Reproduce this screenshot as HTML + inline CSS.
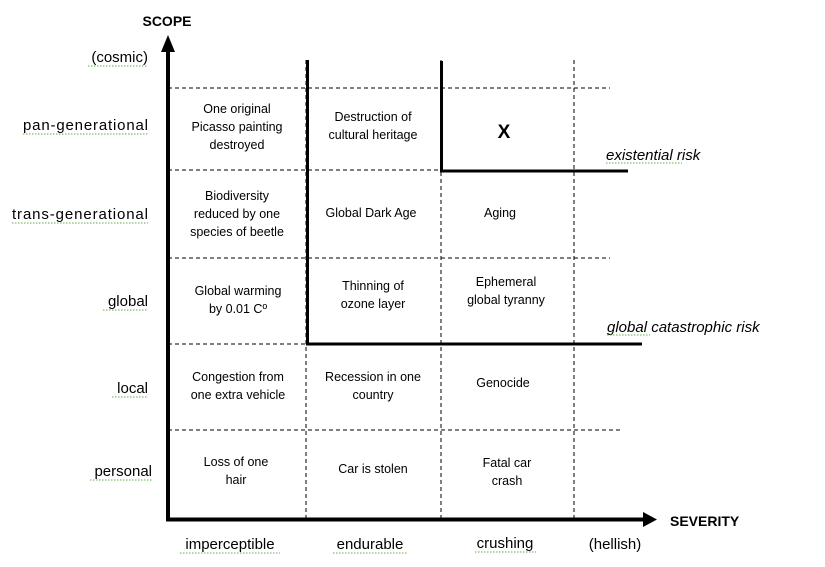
<!DOCTYPE html>
<html><head><meta charset="utf-8"><style>
html,body{margin:0;padding:0;background:#fff;}
svg{display:block;}
text{font-family:"Liberation Sans",sans-serif;fill:#000;}
.c{font-size:12.5px;text-anchor:middle;}
.r{font-size:15px;text-anchor:end;}
.b{font-size:15px;text-anchor:middle;}
.w{stroke:#5bb04a;stroke-width:1;stroke-dasharray:1.5 1.5;fill:none;}
</style></head><body>
<svg width="825" height="567" viewBox="0 0 825 567" xmlns="http://www.w3.org/2000/svg">
<g stroke="#000" stroke-width="1" stroke-dasharray="4 3" fill="none">
<line x1="168" y1="88" x2="610" y2="88"/>
<line x1="168" y1="170" x2="610" y2="170"/>
<line x1="168" y1="258" x2="610" y2="258"/>
<line x1="168" y1="344" x2="610" y2="344"/>
<line x1="168" y1="430" x2="620" y2="430"/>
<line x1="306" y1="60" x2="306" y2="519"/>
<line x1="441" y1="60" x2="441" y2="519"/>
<line x1="574" y1="60" x2="574" y2="519"/>
</g>
<g stroke="#000" stroke-width="3" fill="none">
<polyline points="307.5,60 307.5,344 642,344"/>
<polyline points="441.5,61 441.5,171 628,171"/>
</g>
<line x1="168" y1="519" x2="168" y2="50" stroke="#000" stroke-width="4"/>
<polygon points="161,52 175,52 168,35" fill="#000"/>
<line x1="166" y1="519.5" x2="645" y2="519.5" stroke="#000" stroke-width="4"/>
<polygon points="643,512 643,527 657,519.5" fill="#000"/>
<text x="167" y="26" style="font-size:14px;font-weight:bold;text-anchor:middle">SCOPE</text>
<text x="670" y="526" style="font-size:14px;font-weight:bold">SEVERITY</text>
<text class="r" x="148" y="62">(cosmic)</text>
<text class="r" x="148" y="130" textLength="125">pan-generational</text>
<text class="r" x="148" y="219" textLength="136">trans-generational</text>
<text class="r" x="148" y="306">global</text>
<text class="r" x="148" y="393">local</text>
<text class="r" x="152" y="476">personal</text>
<text class="b" x="230" y="549">imperceptible</text>
<text class="b" x="370" y="549">endurable</text>
<text class="b" x="505" y="548">crushing</text>
<text class="b" x="615" y="549">(hellish)</text>
<text x="606" y="160" style="font-size:15px;font-style:italic">existential risk</text>
<text x="607" y="332" style="font-size:15px;font-style:italic">global catastrophic risk</text>
<text x="504" y="138" style="font-size:19px;font-weight:bold;text-anchor:middle">X</text>
<g class="c">
<text x="237" y="113">One original</text><text x="237" y="131">Picasso painting</text><text x="237" y="149">destroyed</text>
<text x="373" y="121">Destruction of</text><text x="373" y="139">cultural heritage</text>
<text x="237" y="200">Biodiversity</text><text x="237" y="218">reduced by one</text><text x="237" y="236">species of beetle</text>
<text x="371" y="217">Global Dark Age</text>
<text x="500" y="217">Aging</text>
<text x="238" y="295">Global warming</text><text x="238" y="313">by 0.01 Cº</text>
<text x="373" y="290">Thinning of</text><text x="373" y="308">ozone layer</text>
<text x="506" y="286">Ephemeral</text><text x="506" y="304">global tyranny</text>
<text x="238" y="381">Congestion from</text><text x="238" y="399">one extra vehicle</text>
<text x="373" y="381">Recession in one</text><text x="373" y="399">country</text>
<text x="503" y="387">Genocide</text>
<text x="236" y="466">Loss of one</text><text x="236" y="484">hair</text>
<text x="373" y="473">Car is stolen</text>
<text x="507" y="467">Fatal car</text><text x="507" y="485">crash</text>
</g>
<g class="w">
<line x1="88" y1="66" x2="148" y2="66"/>
<line x1="23" y1="134" x2="148" y2="134"/>
<line x1="12" y1="223" x2="148" y2="223"/>
<line x1="103" y1="310" x2="148" y2="310"/>
<line x1="112" y1="397" x2="148" y2="397"/>
<line x1="90" y1="480" x2="152" y2="480"/>
<line x1="180" y1="553" x2="280" y2="553"/>
<line x1="333" y1="553" x2="407" y2="553"/>
<line x1="475" y1="552" x2="536" y2="552"/>
<line x1="606" y1="163" x2="682" y2="163"/>
<line x1="607" y1="335" x2="650" y2="335"/>
</g>
</svg>
</body></html>
